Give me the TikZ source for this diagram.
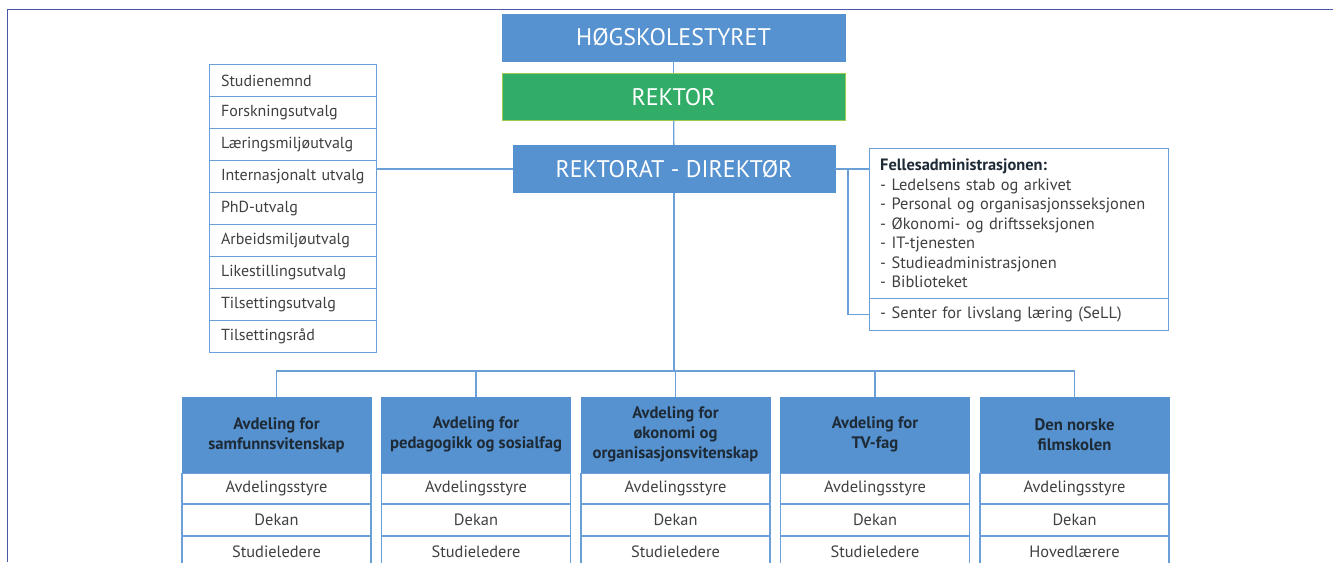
\documentclass[tikz,border=0pt]{standalone}
\usepackage{fontspec}
\setmainfont{PT Sans}
\usetikzlibrary{calc}

\definecolor{boxblue}{HTML}{5592CF}
\definecolor{rekgreen}{HTML}{32AD68}
\definecolor{rekrim}{HTML}{9CCB4F}
\definecolor{lineblue}{HTML}{6A9FD8}
\definecolor{framecol}{HTML}{4A57A5}
\definecolor{txtgrey}{HTML}{404040}
\definecolor{headtxt}{HTML}{1E2A36}

\begin{document}
\begin{tikzpicture}[x=0.75pt,y=-0.75pt,
  toppboks/.style={fill=boxblue,draw=boxblue,text=white,inner sep=0pt,
    font=\fontsize{18}{22}\selectfont,minimum height=35.5pt},
  utvalg/.style={draw=lineblue,line width=0.8pt,anchor=north west,
    text width=112pt,inner xsep=6.6pt,inner ysep=0pt,minimum height=24pt,
    align=left,text=txtgrey,font=\fontsize{12}{14}\selectfont},
  avdhode/.style={fill=boxblue,draw=boxblue,anchor=north,inner sep=0pt,
    minimum width=141.75pt,minimum height=56.25pt,align=center,
    text=headtxt,font=\bfseries\fontsize{12.5}{15}\selectfont},
  avdrad/.style={draw=lineblue,line width=0.8pt,anchor=north,inner sep=0pt,
    minimum width=141.75pt,minimum height=22.9pt,
    text=txtgrey,font=\fontsize{12.3}{14}\selectfont},
  linje/.style={draw=lineblue,line width=1pt}]
  \useasboundingbox (0,0) rectangle (1333,562);
  \draw[framecol,line width=1.2pt] (1333,9.5) -- (7.5,9.5) -- (7.5,562);

  % top of the chart
  \node[toppboks,minimum width=257.25pt] (styret) at (673.5,37.5) {HØGSKOLESTYRET};
  \node[toppboks,fill=rekgreen,draw=rekrim,minimum width=257.25pt] (rektor) at (673.5,97) {REKTOR};
  \node[toppboks,minimum width=241.5pt] (rektorat) at (674,169) {REKTORAT - DIREKTØR};

  % committees
  \node[utvalg] (u1) at (209,64) {\hspace*{2pt}Studienemnd};
  \node[utvalg] (u2) at (209,96) {\hspace*{2pt}Forskningsutvalg};
  \node[utvalg] (u3) at (209,128) {\hspace*{2pt}Læringsmiljøutvalg};
  \node[utvalg] (u4) at (209,160) {\hspace*{2pt}Internasjonalt utvalg};
  \node[utvalg] (u5) at (209,192) {\hspace*{2pt}PhD-utvalg};
  \node[utvalg] (u6) at (209,224) {\hspace*{2pt}Arbeidsmiljøutvalg};
  \node[utvalg] (u7) at (209,256) {\hspace*{2pt}Likestillingsutvalg};
  \node[utvalg] (u8) at (209,288) {\hspace*{2pt}Tilsettingsutvalg};
  \node[utvalg] (u9) at (209,320) {\hspace*{2pt}Tilsettingsråd};

  % common administration
  \node[utvalg,text width=208pt,inner xsep=8pt,minimum height=112.5pt,
    font=\fontsize{12.3}{14.6}\selectfont] (felles) at (869,148)
    {{\bfseries\color{headtxt}Fellesadministrasjonen:}\\
     - Ledelsens stab og arkivet\\
     - Personal og organisasjonsseksjonen\\
     - Økonomi- og driftsseksjonen\\
     - IT-tjenesten\\
     - Studieadministrasjonen\\
     - Biblioteket};
  \node[utvalg,text width=208pt,inner xsep=8pt,
    font=\fontsize{12.3}{14}\selectfont] (sell) at (869,298)
    {- Senter for livslang læring (SeLL)};

  % departments
  \node[avdhode] (a1) at (276.5,397) {Avdeling for\\samfunnsvitenskap};
  \node[avdhode] (a2) at (476,397) {Avdeling for\\pedagogikk og sosialfag};
  \node[avdhode] (a3) at (675.5,397) {Avdeling for\\økonomi og\\organisasjonsvitenskap};
  \node[avdhode] (a4) at (875,397) {Avdeling for\\TV-fag};
  \node[avdhode] (a5) at (1074.5,397) {Den norske\\filmskolen};
  \node[avdrad] (a1s) at (a1.south) {Avdelingsstyre};
  \node[avdrad] (a2s) at (a2.south) {Avdelingsstyre};
  \node[avdrad] (a3s) at (a3.south) {Avdelingsstyre};
  \node[avdrad] (a4s) at (a4.south) {Avdelingsstyre};
  \node[avdrad] (a5s) at (a5.south) {Avdelingsstyre};
  \node[avdrad] (a1d) at (a1s.south) {Dekan};
  \node[avdrad] (a2d) at (a2s.south) {Dekan};
  \node[avdrad] (a3d) at (a3s.south) {Dekan};
  \node[avdrad] (a4d) at (a4s.south) {Dekan};
  \node[avdrad] (a5d) at (a5s.south) {Dekan};
  \node[avdrad] (a1l) at (a1d.south) {Studieledere};
  \node[avdrad] (a2l) at (a2d.south) {Studieledere};
  \node[avdrad] (a3l) at (a3d.south) {Studieledere};
  \node[avdrad] (a4l) at (a4d.south) {Studieledere};
  \node[avdrad] (a5l) at (a5d.south) {Hovedlærere};

  % connectors
  \coordinate (fork) at (848,169);
  \coordinate (bus) at (0,371);
  \draw[linje] (styret) -- (rektor);
  \draw[linje] (rektor) -- (rektorat);
  \draw[linje] (rektorat.west) -- (rektorat.west -| u4.east);
  \draw[linje] (rektorat.east) -- (rektorat.east -| felles.west);
  \draw[linje] (fork) |- (sell.west);
  \draw[linje] (rektorat.south) -- (rektorat.south |- bus);
  \draw[linje] (a1.north) |- (bus -| a5.north) -- (a5.north);
  \draw[linje] (a2.north) -- (a2.north |- bus);
  \draw[linje] (a3.north) -- (a3.north |- bus);
  \draw[linje] (a4.north) -- (a4.north |- bus);
\end{tikzpicture}
\end{document}
